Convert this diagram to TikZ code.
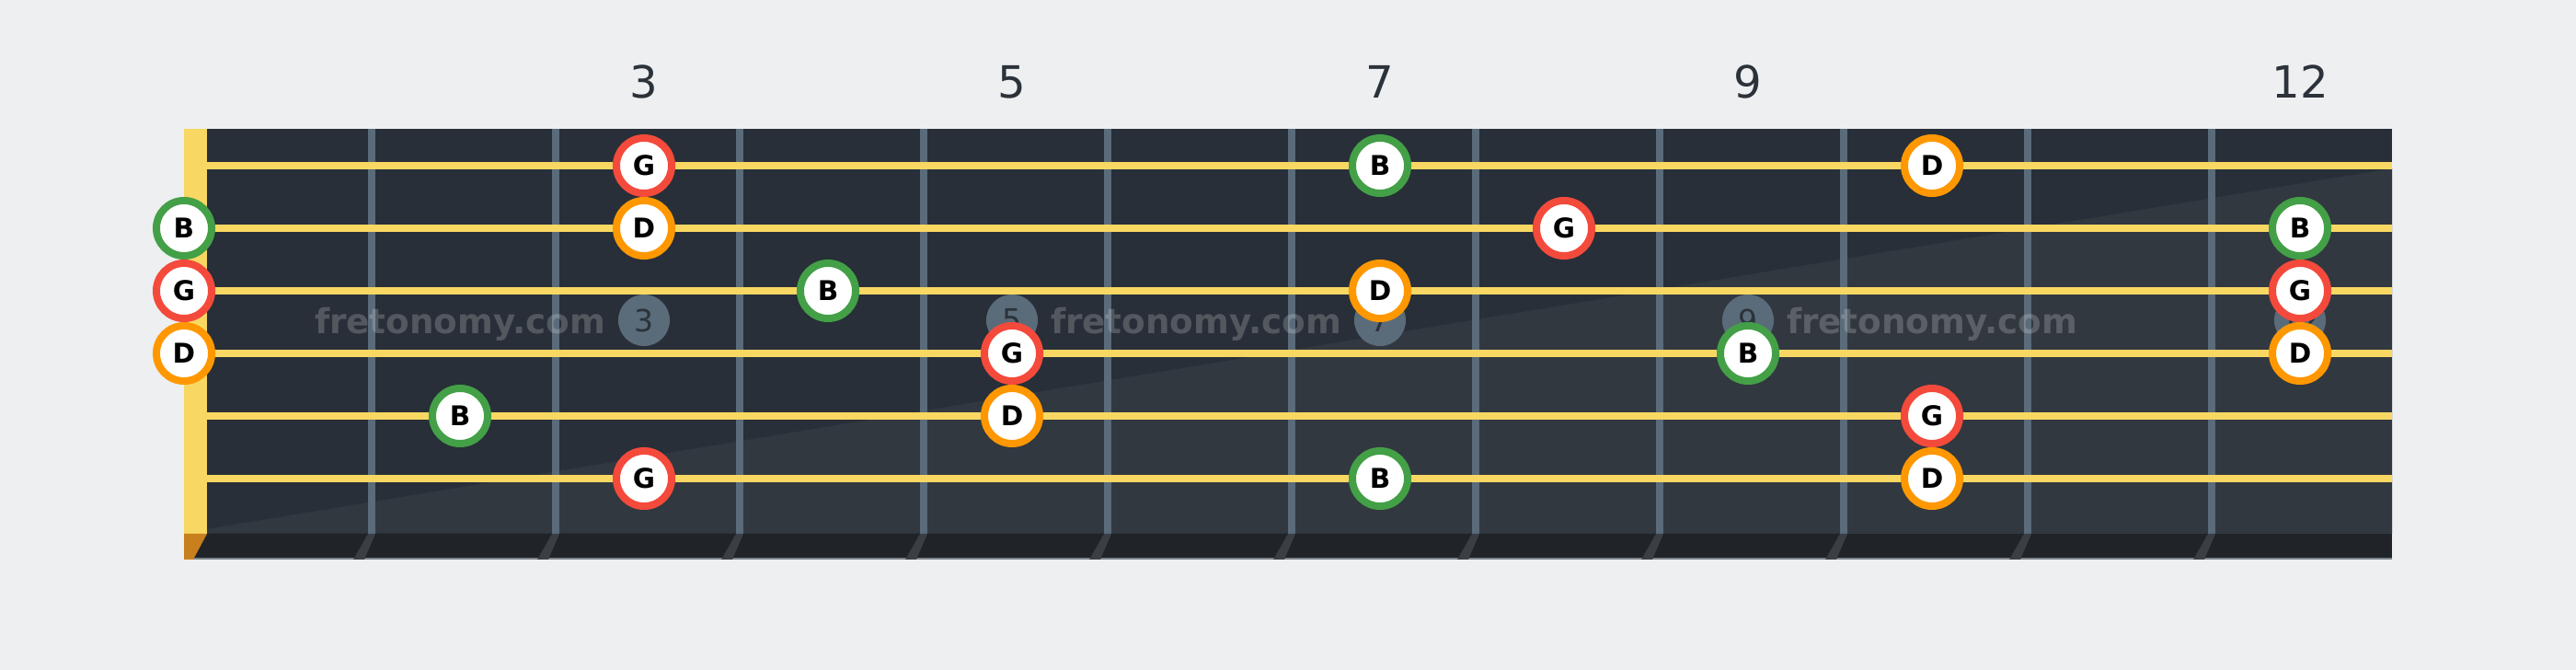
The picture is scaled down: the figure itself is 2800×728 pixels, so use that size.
\documentclass[tikz,border=0pt]{standalone}
\usepackage{fontspec}
\setmainfont{DejaVu Sans}
\definecolor{bgpage}{HTML}{EDEFF1}
\definecolor{board}{HTML}{282F38}
\definecolor{boardlight}{HTML}{323840}
\definecolor{boardedge}{HTML}{202428}
\definecolor{edgeline}{HTML}{7A828A}
\definecolor{fretgray}{HTML}{5A6B7A}
\definecolor{fretshadow}{HTML}{3A3F45}
\definecolor{stringyellow}{HTML}{F8D862}
\definecolor{nutorange}{HTML}{C8801E}
\definecolor{noteG}{HTML}{F44A3C}
\definecolor{noteB}{HTML}{43A047}
\definecolor{noteD}{HTML}{FF9800}
\definecolor{numdark}{HTML}{2B323A}

\begin{document}
\begin{tikzpicture}[x = 0.01cm, y = -0.01cm]
\tikzstyle{note} = [shape = circle, minimum size = 0.6cm, inner sep = 0pt, line width = 0.08cm, fill = white, text = black, font = \fontsize{8.4}{10}\selectfont\bfseries]
\tikzstyle{noteg} = [note, draw = noteG]
\tikzstyle{noteb} = [note, draw = noteB]
\tikzstyle{noted} = [note, draw = noteD]
\tikzstyle{inlay} = [shape = circle, minimum size = 0.56cm, inner sep = 0pt, fill = fretgray, text = numdark, font = \fontsize{9.4}{11}\selectfont]
\tikzstyle{fretnum} = [anchor = base, text = numdark, font = \fontsize{13.7}{16}\selectfont]
\tikzstyle{watermark} = [anchor = base, text = white, text opacity = 0.2, font = \fontsize{10.6}{12}\selectfont\bfseries]
\tikzstyle{guitarstring} = [draw = stringyellow, line width = 0.08cm]
\fill[bgpage] (0, 0) rectangle (2800, 728);
\fill[board] (200, 140) rectangle (2600, 580);
\fill[boardlight] (200, 579) -- (2600, 183) -- (2600, 580) -- cycle;
\fill[boardedge] (200, 580) rectangle (2600, 608);
\draw[edgeline, line width = 0.02cm] (200, 607.5) -- (2600, 607.5);
\foreach \x in {400, 600, ..., 2400} {
  \fill[fretgray] (\x, 140) rectangle (\x + 8, 580);
  \fill[fretshadow] (\x, 580) -- (\x + 8, 580) -- (\x - 4, 608) -- (\x - 16, 608) -- cycle;
}
\fill[stringyellow] (200, 140) rectangle (225, 580);
\fill[nutorange] (200, 580) -- (225, 580) -- (210, 608) -- (200, 608) -- cycle;
\node[inlay] (I-3) at (700, 348) {3};
\node[inlay] (I-5) at (1100, 348) {5};
\node[inlay] (I-7) at (1500, 348) {7};
\node[inlay] (I-9) at (1900, 348) {9};
\node[inlay] (I-12) at (2500, 348) {12};
\node[watermark] (W-1) at (500, 363) {fretonomy.com};
\node[watermark] (W-2) at (1300, 363) {fretonomy.com};
\node[watermark] (W-3) at (2100, 363) {fretonomy.com};
\foreach \y in {180, 248, 316, 384, 452, 520} {
  \draw[guitarstring] (225, \y) -- (2600, \y);
}
\node[noteg] (N1-3) at (700, 180) {G};
\node[noteb] (N1-7) at (1500, 180) {B};
\node[noted] (N1-10) at (2100, 180) {D};
\node[noteb] (N2-0) at (200, 248) {B};
\node[noted] (N2-3) at (700, 248) {D};
\node[noteg] (N2-8) at (1700, 248) {G};
\node[noteb] (N2-12) at (2500, 248) {B};
\node[noteg] (N3-0) at (200, 316) {G};
\node[noteb] (N3-4) at (900, 316) {B};
\node[noted] (N3-7) at (1500, 316) {D};
\node[noteg] (N3-12) at (2500, 316) {G};
\node[noted] (N4-0) at (200, 384) {D};
\node[noteg] (N4-5) at (1100, 384) {G};
\node[noteb] (N4-9) at (1900, 384) {B};
\node[noted] (N4-12) at (2500, 384) {D};
\node[noteb] (N5-2) at (500, 452) {B};
\node[noted] (N5-5) at (1100, 452) {D};
\node[noteg] (N5-10) at (2100, 452) {G};
\node[noteg] (N6-3) at (700, 520) {G};
\node[noteb] (N6-7) at (1500, 520) {B};
\node[noted] (N6-10) at (2100, 520) {D};
\node[fretnum] (F-3) at (700, 106.5) {3};
\node[fretnum] (F-5) at (1100, 106.5) {5};
\node[fretnum] (F-7) at (1500, 106.5) {7};
\node[fretnum] (F-9) at (1900, 106.5) {9};
\node[fretnum] (F-12) at (2500, 106.5) {12};
\end{tikzpicture}
\end{document}
